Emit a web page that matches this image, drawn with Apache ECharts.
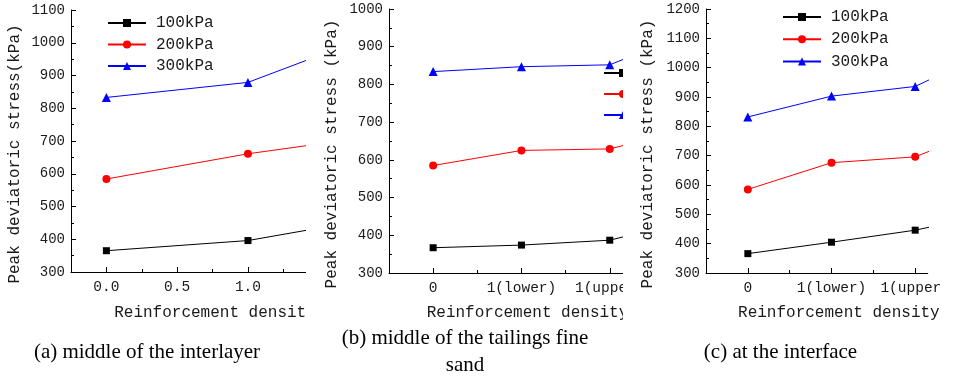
<!DOCTYPE html>
<html><head><meta charset="utf-8">
<script src="https://cdn.jsdelivr.net/npm/echarts@6/dist/echarts.min.js"></script>
<style>html,body{margin:0;padding:0;background:#fff}#c{width:953px;height:376px}</style>
</head><body><div id="c"></div>
<script>
// ---- data ----
const seriesNames = ['100kPa', '200kPa', '300kPa'];
// panel (a): numeric reinforcement density
const aX = [0, 1, 2];
const aTickValues = [0, 0.5, 1.0];
const a100 = [365, 396, 472];
const a200 = [584, 661, 721];
const a300 = [833, 879, 1042];
// panels (b) and (c): categories
const bcCategories = ['0', '1(lower)', '1(upper)', '2'];
const b100 = [367, 374, 387, 444];
const b200 = [585, 625, 629, 689];
const b300 = [834, 847, 852, 946];
const c100 = [366, 405, 446, 506];
const c200 = [585, 676, 696, 809];
const c300 = [832, 903, 936, 1071];
const captions = ['(a) middle of the interlayer', '(b) middle of the tailings fine\nsand', '(c) at the interface'];
const yNames = ['Peak deviatoric stress(kPa)', 'Peak deviatoric stress (kPa)', 'Peak deviatoric stress (kPa)'];
const xName = 'Reinforcement density';

// ---- styles ----
const colors = ['#000000', '#ff0000', '#0000ff'];
const symbols = ['rect', 'circle', 'triangle'];
const symbolSizes = [7, 8, 9];
const mono = '"Liberation Mono", "DejaVu Sans Mono", monospace';
const txt = '#1a1a1a';

const chart = echarts.init(document.getElementById('c'));

function yAx(gi, min, max, gap, extra) {
  return Object.assign({
    gridIndex: gi, type: 'value', min: min, max: max, interval: 100,
    name: yNames[gi], nameLocation: 'middle', nameGap: gap,
    nameTextStyle: { fontFamily: mono, fontSize: 16, color: txt, padding: [0, 26, 0, 0] },
    axisLine: { show: true, onZero: false, lineStyle: { color: '#000', width: 1 } },
    axisTick: { show: true, inside: true, length: 5, lineStyle: { color: '#000' } },
    minorTick: { show: true, splitNumber: 2, length: 3, lineStyle: { color: '#000' } },
    axisLabel: { fontFamily: mono, fontSize: 14, color: txt, margin: 6, formatter: (v) => String(v) },
    splitLine: { show: false }
  }, extra || {});
}
function xMain(gi, min, max, interval, ticks, fmt, gap, padL) {
  return {
    gridIndex: gi, type: 'value', min: min, max: max, interval: interval, position: 'bottom',
    name: xName, nameLocation: 'middle', nameGap: gap,
    nameTextStyle: { fontFamily: mono, fontSize: 16, color: txt, padding: [0, 0, 0, padL] },
    axisLine: { show: true, onZero: false, lineStyle: { color: '#000', width: 1 } },
    axisTick: { show: true, inside: true, length: 5, customValues: ticks, lineStyle: { color: '#000' } },
    axisLabel: { formatter: fmt, fontFamily: mono, fontSize: 14.5, color: txt, margin: 8, hideOverlap: false, showMinLabel: true, showMaxLabel: true },
    splitLine: { show: false }
  };
}
function xMinor(gi, min, max, ticks) {
  return {
    gridIndex: gi, type: 'value', min: min, max: max, position: 'bottom', offset: 0,
    axisLine: { show: false, onZero: false },
    axisTick: { show: true, inside: true, length: 3, customValues: ticks, lineStyle: { color: '#000' } },
    axisLabel: { show: false }, splitLine: { show: false }
  };
}
const near = (v, t) => Math.abs(v - t) < 1e-6;
const aFmt = (v) => aTickValues.some((t) => near(v, t)) ? v.toFixed(1) : '';
const bcTicks = [0, 1, 2];
const catFmt = (v) => bcTicks.some((t) => near(v, t)) ? bcCategories[Math.round(v)] : '';

const xAxis = [
  xMain(0, -0.25, 1.41, 0.25, aTickValues, aFmt, 33, 53),
  xMinor(0, -0.25, 1.41, [0.25, 0.75, 1.25]),
  xMain(1, -0.5, 2.15, 0.5, bcTicks, catFmt, 32, 43),
  xMinor(1, -0.5, 2.15, [0.5, 1.5]),
  xMain(2, -0.5, 2.15, 0.5, bcTicks, catFmt, 32, 44),
  xMinor(2, -0.5, 2.15, [0.5, 1.5])
];
const yAxis = [
  yAx(0, 300, 1100, 48),
  yAx(1, 300, 1000, 49),
  yAx(2, 300, 1200, 50, { z: 10 })
];

const panelData = [
  { xi: 0, yi: 0, xs: aX, vals: [a100, a200, a300] },
  { xi: 2, yi: 1, xs: bcCategories.map((c, i) => i), vals: [b100, b200, b300] },
  { xi: 4, yi: 2, xs: bcCategories.map((c, i) => i), vals: [c100, c200, c300] }
];
const series = [];
panelData.forEach((p) => {
  p.vals.forEach((arr, k) => {
    series.push({
      type: 'line', name: seriesNames[k], xAxisIndex: p.xi, yAxisIndex: p.yi,
      data: arr.map((v, i) => [p.xs[i], v]),
      symbol: symbols[k], symbolSize: symbolSizes[k],
      lineStyle: { color: colors[k], width: 1 },
      itemStyle: { color: colors[k] },
      clip: true, animation: false
    });
  });
});

function legend(left, top, gap, showText) {
  return {
    orient: 'vertical', left: left, top: top, padding: 0, itemWidth: 38, itemHeight: 10, itemGap: gap,
    data: seriesNames, selectedMode: false, z: 1,
    formatter: showText ? undefined : () => '',
    textStyle: { fontFamily: mono, fontSize: 16, color: txt, lineHeight: 16, padding: [0, 0, 0, 5] }
  };
}

chart.setOption({
  animation: false,
  backgroundColor: '#ffffff',
  grid: [
    { left: 71, top: 10, width: 235, height: 262 },
    { left: 389, top: 9, width: 234, height: 264 },
    { left: 706, top: 9, width: 234, height: 264 }
  ],
  xAxis: xAxis,
  yAxis: yAxis,
  legend: [legend(107, 15, 5.5, true), legend(603, 69, 13, false), legend(782, 9, 6.2, true)],
  series: series,
  graphic: [
    { type: 'rect', z: 5, shape: { x: 306, y: 0, width: 16, height: 330 }, style: { fill: '#fff' } },
    { type: 'rect', z: 5, shape: { x: 623, y: 0, width: 82, height: 330 }, style: { fill: '#fff' } },
    { type: 'rect', z: 5, shape: { x: 941, y: 0, width: 12, height: 330 }, style: { fill: '#fff' } },
    { type: 'text', z: 6, x: 147, y: 352, style: { text: captions[0], fontFamily: 'Liberation Serif', fontSize: 21, fill: '#000', align: 'center', verticalAlign: 'middle' } },
    { type: 'text', z: 6, x: 465, y: 351.5, style: { text: captions[1], fontFamily: 'Liberation Serif', fontSize: 21, lineHeight: 27, fill: '#000', align: 'center', verticalAlign: 'middle' } },
    { type: 'text', z: 6, x: 780.5, y: 352, style: { text: captions[2], fontFamily: 'Liberation Serif', fontSize: 21, fill: '#000', align: 'center', verticalAlign: 'middle' } }
  ]
});
</script></body></html>
